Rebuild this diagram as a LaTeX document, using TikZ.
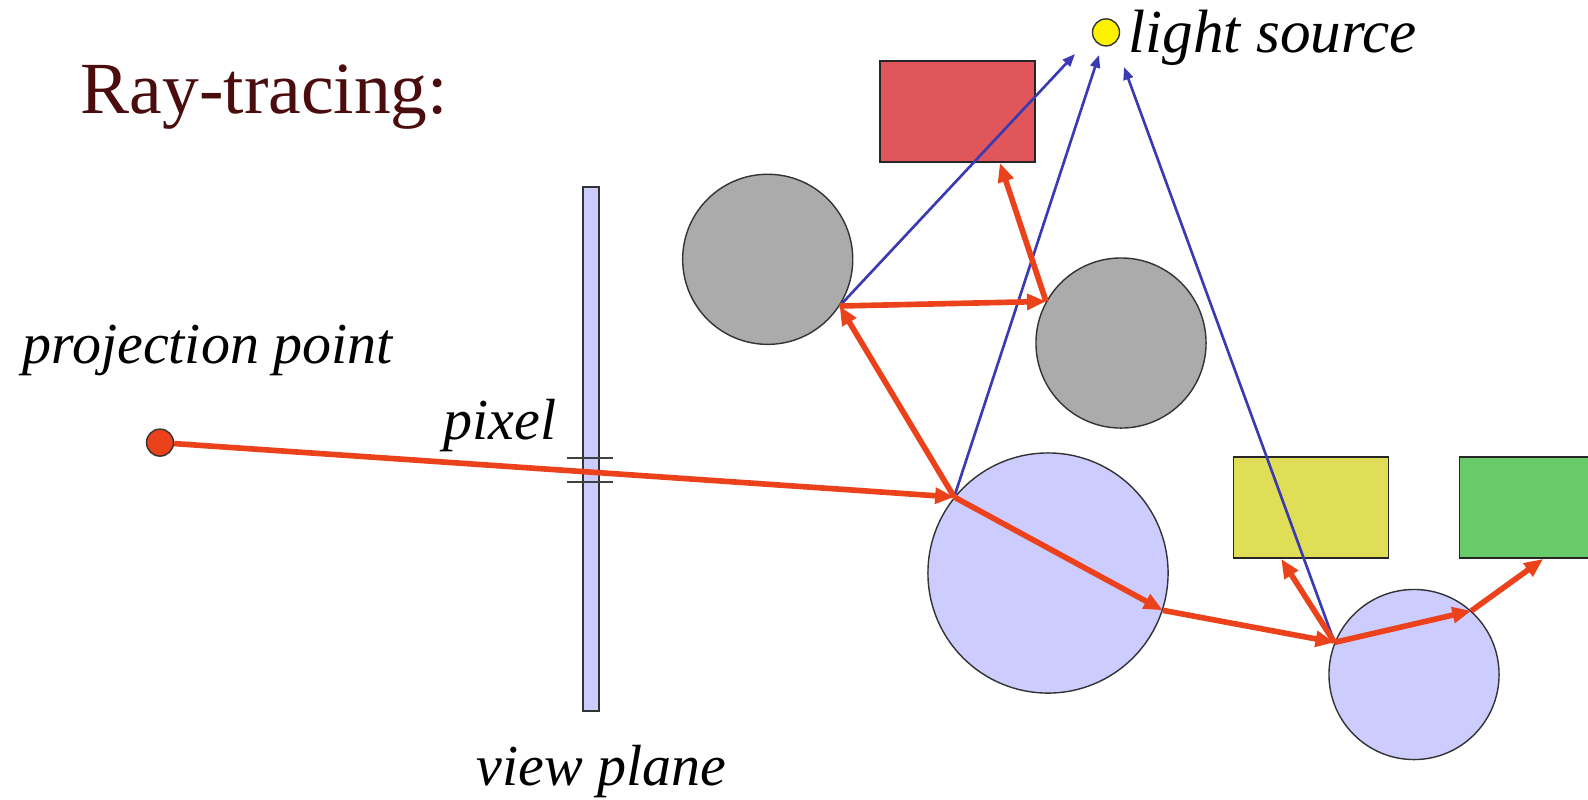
\documentclass[tikz,border=0pt]{standalone}
\usepackage{fontspec}
\setmainfont{Liberation Serif}
\usetikzlibrary{arrows.meta,calc}
\definecolor{raycol}{RGB}{236,66,28}
\definecolor{shadowcol}{RGB}{58,58,178}
\definecolor{titlecol}{RGB}{74,12,12}
\definecolor{lavender}{RGB}{204,204,255}
\definecolor{boxred}{RGB}{224,86,90}
\definecolor{boxyellow}{RGB}{224,222,86}
\definecolor{boxgreen}{RGB}{104,202,104}

\begin{document}
\begin{tikzpicture}[x=0.01cm,y=-0.01cm,
  ball/.style={circle,draw=black!80,line width=.4pt,inner sep=0pt},
  box/.style={rectangle,draw=black!85,line width=.5pt,inner sep=0pt,
    minimum width=1.55cm,minimum height=1.01cm},
  ray/.style={-{Triangle[length=5.4pt,width=4.4pt]},draw=raycol,line width=1.6pt},
  shadow/.style={-{Triangle[length=3.6pt,width=2.8pt]},draw=shadowcol,line width=.75pt},
  lbl/.style={inner sep=0pt,anchor=base west,font=\fontsize{16.5}{20}\selectfont\itshape}]
\clip (0,0) rectangle (1588,799);
\fill[white] (0,0) rectangle (1588,799);
\node[inner sep=0pt,anchor=base west,text=titlecol,font=\fontsize{20.9}{25}\selectfont]
  (title) at (80,113) {Ray-tracing:};
% scene objects
\node[box,fill=boxred] (redbox) at (957.5,111.5) {};
\node[box,fill=boxyellow] (yelbox) at (1311,507.5) {};
\node[box,fill=boxgreen] (grnbox) at (1537,507.5) {};
\node[ball,fill=black!33,minimum size=1.70cm] (gray1) at (767.7,259.3) {};
\node[ball,fill=black!33,minimum size=1.70cm] (gray2) at (1121,343) {};
\node[ball,fill=lavender,minimum size=2.40cm] (big) at (1048,573) {};
\node[ball,fill=lavender,minimum size=1.70cm] (small) at (1414,674.5) {};
\node[ball,fill=yellow,minimum size=.27cm] (light) at (1106,32.4) {};
\node[rectangle,draw=black!80,fill=lavender,line width=.4pt,inner sep=0pt,
  minimum width=.16cm,minimum height=5.24cm] (plane) at (591,449) {};
\node[ball,fill=raycol,minimum size=.27cm] (eye) at (160,442.6) {};
% pixel marks
\draw[black!75,line width=.5pt] (567,458) -- (613,458);
\draw[black!75,line width=.5pt] (567,482) -- (613,482);
% labels
\node[lbl,font=\fontsize{17.4}{20}\selectfont\itshape] (lightlbl) at (1128,52) {light source};
\node[lbl] (eyelbl) at (22,363) {projection point};
\node[lbl] (pixlbl) at (443,439) {pixel};
\node[lbl] (planelbl) at (476,785) {view plane};
% hit points
\coordinate (hitBig) at (big.141.6);
\coordinate (hitOut) at (big.-18.3);
\coordinate (hitG1) at (gray1.-33);
\coordinate (hitG2) at (gray2.151);
\coordinate (hitS1) at (small.158);
\coordinate (hitS2) at (small.48);
\coordinate (tipA) at (1075,54);
\coordinate (tipB) at (1099,55);
\coordinate (tipC) at (1124,67);
% shadow rays
\draw[shadow] (hitG1) -- (tipA);
\draw[shadow] (hitBig) -- (tipB);
\draw[shadow] (hitS1) -- (tipC);
% traced rays
\draw[ray] (eye) -- (hitBig);
\draw[ray] (hitBig) -- (hitG1);
\draw[ray] (hitG1) -- (hitG2);
\draw[ray] (hitG2) -- ($(redbox.south west)!.77!(redbox.south east)$);
\draw[ray] (hitBig) -- (hitOut);
\draw[ray] (hitOut) -- (hitS1);
\draw[ray] (hitS1) -- ($(yelbox.south west)!.31!(yelbox.south east)$);
\draw[ray] (hitS1) -- (hitS2);
\draw[ray] (hitS2) -- ($(grnbox.south west)!.54!(grnbox.south east)$);
\end{tikzpicture}
\end{document}
